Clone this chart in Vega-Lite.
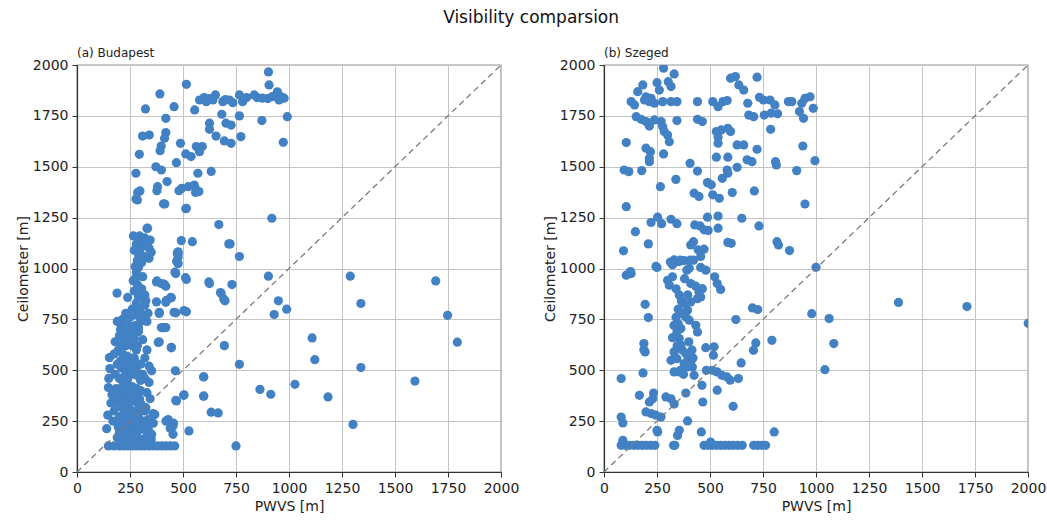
{
"$schema": "https://vega.github.io/schema/vega-lite/v6.json",
"padding": {"left": 15, "top": 9, "right": 0, "bottom": 0},
"background": "white",
"title": {"text": "Visibility comparsion", "fontSize": 17, "font": "DejaVu Sans", "fontWeight": "normal", "color": "#111", "offset": 19, "anchor": "middle", "frame": "bounds"},
"config": {
  "font": "DejaVu Sans",
  "view": {"stroke": "#333", "strokeWidth": 1.2},
  "axis": {"grid": true, "gridColor": "#c4c4c4", "gridWidth": 1, "domainColor": "#333", "domainWidth": 1.2, "tickColor": "#333", "tickSize": 5, "labelFontSize": 14, "titleFontSize": 14, "labelColor": "#222", "titleColor": "#222", "titleFontWeight": "normal", "labelPadding": 4, "labelFont": "DejaVu Sans", "titleFont": "DejaVu Sans", "labelFlush": false, "labelOverlap": false, "format": "d"},
  "axisY": {"titlePadding": 2},
  "axisX": {"titlePadding": 4}
},
"datasets": {
  "diag": [{"x": 0, "y": 0, "x2": 2000, "y2": 2000}],
  "bud": [
{"x":903,"y":1966},{"x":906,"y":1902},{"x":516,"y":1905},{"x":391,"y":1858},{"x":323,"y":1784},{"x":458,"y":1795},{"x":419,"y":1738},{"x":555,"y":1779},
{"x":578,"y":1828},{"x":610,"y":1820},{"x":641,"y":1828},{"x":653,"y":1853},{"x":688,"y":1820},{"x":719,"y":1828},{"x":766,"y":1853},{"x":781,"y":1820},{"x":836,"y":1853},{"x":875,"y":1837},{"x":922,"y":1845},{"x":945,"y":1868},{"x":961,"y":1845},{"x":977,"y":1837},{"x":953,"y":1828},{"x":600,"y":1840},{"x":625,"y":1835},{"x":700,"y":1830},{"x":735,"y":1815},{"x":800,"y":1840},{"x":850,"y":1840},{"x":900,"y":1835},
{"x":683,"y":1758},{"x":766,"y":1750},{"x":872,"y":1727},{"x":992,"y":1746},{"x":625,"y":1714},{"x":625,"y":1684},{"x":703,"y":1714},{"x":727,"y":1705},{"x":656,"y":1651},{"x":695,"y":1627},{"x":727,"y":1615},{"x":773,"y":1648},{"x":973,"y":1620},{"x":309,"y":1651},{"x":341,"y":1656},{"x":294,"y":1561},{"x":419,"y":1668},{"x":413,"y":1640},{"x":397,"y":1602},{"x":392,"y":1579},{"x":488,"y":1615},{"x":513,"y":1563},{"x":538,"y":1550},{"x":578,"y":1574},{"x":591,"y":1599},{"x":563,"y":1599},{"x":278,"y":1468},{"x":372,"y":1500},{"x":398,"y":1484},{"x":469,"y":1520},{"x":570,"y":1468},{"x":633,"y":1477},{"x":380,"y":1402},{"x":425,"y":1427},{"x":494,"y":1394},{"x":525,"y":1402},{"x":553,"y":1410},{"x":564,"y":1386},{"x":575,"y":1378},{"x":297,"y":1381},{"x":285,"y":1337},{"x":414,"y":1317},{"x":516,"y":1296},{"x":919,"y":1247},
{"x":278,"y":1342},{"x":286,"y":1374},{"x":377,"y":1382},{"x":408,"y":1318},{"x":513,"y":1294},{"x":481,"y":1382},{"x":559,"y":1374},{"x":669,"y":1216},{"x":716,"y":1121},{"x":330,"y":1197},{"x":492,"y":1137},{"x":544,"y":1132},{"x":473,"y":1076},{"x":470,"y":1035},{"x":462,"y":982},{"x":512,"y":955},{"x":377,"y":939},{"x":411,"y":923},{"x":622,"y":934},{"x":677,"y":882},{"x":692,"y":850},{"x":189,"y":879},{"x":239,"y":858},{"x":317,"y":850},{"x":442,"y":858},{"x":419,"y":834},{"x":388,"y":785},{"x":458,"y":785},{"x":505,"y":793},{"x":766,"y":1059},{"x":903,"y":962},{"x":625,"y":926},{"x":731,"y":921},{"x":680,"y":877},{"x":698,"y":841},{"x":950,"y":841},{"x":930,"y":774},{"x":989,"y":800},{"x":516,"y":946},{"x":516,"y":787},{"x":466,"y":782},{"x":388,"y":779},{"x":398,"y":710},{"x":419,"y":710},{"x":388,"y":639},{"x":445,"y":610},{"x":722,"y":1121},{"x":477,"y":1075},{"x":466,"y":975},{"x":477,"y":1024},{"x":477,"y":1057},{"x":477,"y":1082},{"x":375,"y":934},{"x":398,"y":926},{"x":419,"y":913},{"x":375,"y":836},{"x":422,"y":844},{"x":445,"y":856},{"x":325,"y":841},
{"x":275,"y":1010},{"x":285,"y":1040},{"x":290,"y":1070},{"x":300,"y":1100},{"x":310,"y":1130},{"x":320,"y":1150},{"x":330,"y":1120},{"x":340,"y":1100},{"x":300,"y":1140},{"x":280,"y":1120},{"x":295,"y":1160},{"x":345,"y":1140},{"x":350,"y":1080},{"x":270,"y":1090},{"x":315,"y":1060},{"x":305,"y":1030},{"x":290,"y":1005},{"x":340,"y":1050},{"x":266,"y":1160},{"x":333,"y":1198},
{"x":280,"y":980},{"x":275,"y":950},{"x":285,"y":920},{"x":270,"y":890},{"x":290,"y":860},{"x":280,"y":830},{"x":295,"y":800},{"x":285,"y":770},{"x":300,"y":740},{"x":290,"y":710},{"x":310,"y":960},{"x":305,"y":900},{"x":320,"y":870},{"x":265,"y":940},{"x":260,"y":800},{"x":300,"y":880},{"x":310,"y":770},{"x":275,"y":720},{"x":320,"y":820},{"x":335,"y":780},{"x":330,"y":740},
{"x":1289,"y":962},{"x":1339,"y":828},{"x":1339,"y":513},{"x":1302,"y":234},{"x":1692,"y":939},{"x":1748,"y":770},{"x":1794,"y":638},{"x":1594,"y":447},{"x":1028,"y":431},{"x":1109,"y":659},{"x":1122,"y":552},{"x":1184,"y":369},{"x":766,"y":529},{"x":750,"y":128},{"x":863,"y":406},{"x":914,"y":382},{"x":695,"y":621},{"x":598,"y":468},{"x":598,"y":374},{"x":633,"y":294},{"x":528,"y":202},{"x":505,"y":379},{"x":466,"y":352},{"x":464,"y":497},{"x":445,"y":613},{"x":383,"y":637},{"x":406,"y":710},{"x":414,"y":710},{"x":352,"y":497},{"x":367,"y":282},{"x":430,"y":258},{"x":453,"y":226},{"x":453,"y":185},{"x":336,"y":258},{"x":336,"y":210},{"x":352,"y":185},{"x":666,"y":290},{"x":503,"y":377},{"x":469,"y":349},{"x":273,"y":246},{"x":359,"y":287},{"x":325,"y":316},{"x":597,"y":467},{"x":597,"y":372},
{"x":153,"y":562},{"x":155,"y":508},{"x":148,"y":415},{"x":160,"y":339},{"x":140,"y":213},{"x":150,"y":460},{"x":165,"y":380},{"x":175,"y":300},{"x":145,"y":280},{"x":170,"y":250},
{"x":190,"y":740},{"x":210,"y":720},{"x":230,"y":700},{"x":250,"y":690},{"x":200,"y":670},{"x":220,"y":650},{"x":240,"y":640},{"x":260,"y":620},{"x":280,"y":600},{"x":195,"y":600},{"x":215,"y":580},{"x":235,"y":570},{"x":255,"y":560},{"x":275,"y":540},{"x":300,"y":530},{"x":190,"y":530},{"x":210,"y":510},{"x":230,"y":500},{"x":250,"y":490},{"x":270,"y":480},{"x":290,"y":470},{"x":320,"y":460},{"x":200,"y":460},{"x":220,"y":440},{"x":240,"y":430},{"x":260,"y":420},{"x":280,"y":410},{"x":300,"y":400},{"x":330,"y":390},{"x":185,"y":410},{"x":205,"y":390},{"x":225,"y":370},{"x":245,"y":360},{"x":265,"y":350},{"x":285,"y":340},{"x":305,"y":330},{"x":190,"y":340},{"x":210,"y":320},{"x":230,"y":300},{"x":250,"y":290},{"x":270,"y":280},{"x":290,"y":270},{"x":200,"y":270},{"x":220,"y":250},{"x":240,"y":240},{"x":260,"y":230},{"x":280,"y":220},{"x":300,"y":210},{"x":195,"y":220},{"x":215,"y":200},{"x":235,"y":190},{"x":255,"y":180},{"x":275,"y":170},{"x":300,"y":160},{"x":320,"y":150},{"x":190,"y":170},{"x":210,"y":160},{"x":230,"y":150},{"x":250,"y":145},{"x":270,"y":560},{"x":330,"y":600},{"x":310,"y":650},{"x":290,"y":690},{"x":270,"y":660},{"x":320,"y":560},{"x":340,"y":520},{"x":310,"y":480},{"x":250,"y":760},{"x":230,"y":780},{"x":215,"y":750},{"x":245,"y":720},{"x":340,"y":440},{"x":320,"y":300},{"x":310,"y":250},{"x":330,"y":220},{"x":230,"y":620},{"x":180,"y":640},{"x":175,"y":580},{"x":260,"y":520},{"x":280,"y":500},{"x":300,"y":450},{"x":240,"y":460},{"x":220,"y":540},{"x":180,"y":480},{"x":180,"y":360},{"x":345,"y":360},
{"x":205,"y":700},{"x":225,"y":680},{"x":245,"y":665},{"x":265,"y":640},{"x":285,"y":620},{"x":210,"y":620},{"x":205,"y":545},{"x":245,"y":530},{"x":265,"y":500},{"x":225,"y":470},{"x":215,"y":420},{"x":235,"y":400},{"x":255,"y":380},{"x":275,"y":370},{"x":295,"y":360},{"x":205,"y":350},{"x":225,"y":330},{"x":245,"y":315},{"x":265,"y":300},{"x":285,"y":300},{"x":215,"y":280},{"x":235,"y":265},{"x":255,"y":255},{"x":275,"y":245},{"x":295,"y":235},{"x":205,"y":240},{"x":225,"y":225},{"x":245,"y":210},{"x":265,"y":200},{"x":285,"y":200},{"x":205,"y":200},
{"x":148,"y":128},{"x":175,"y":128},{"x":200,"y":128},{"x":220,"y":128},{"x":240,"y":128},{"x":260,"y":128},{"x":280,"y":128},{"x":300,"y":128},{"x":320,"y":128},{"x":340,"y":128},{"x":360,"y":128},{"x":380,"y":128},{"x":400,"y":128},{"x":420,"y":128},{"x":440,"y":128},{"x":461,"y":128},
{"x":200,"y":190},{"x":230,"y":220},{"x":250,"y":200},{"x":280,"y":190},{"x":330,"y":180},{"x":350,"y":160},{"x":440,"y":215},{"x":455,"y":240},{"x":420,"y":250},{"x":360,"y":240}
  ],
  "sze": [
{"x":281,"y":1984},{"x":331,"y":1956},{"x":303,"y":1918},{"x":316,"y":1894},{"x":250,"y":1913},{"x":261,"y":1877},{"x":183,"y":1902},{"x":159,"y":1869},{"x":128,"y":1820},{"x":144,"y":1804},{"x":191,"y":1828},{"x":214,"y":1820},{"x":238,"y":1812},{"x":277,"y":1820},{"x":316,"y":1820},{"x":344,"y":1820},{"x":198,"y":1844},{"x":222,"y":1836},{"x":152,"y":1746},{"x":175,"y":1733},{"x":198,"y":1722},{"x":214,"y":1700},{"x":238,"y":1730},{"x":269,"y":1722},{"x":277,"y":1697},{"x":284,"y":1673},{"x":300,"y":1656},{"x":308,"y":1623},{"x":344,"y":1727},{"x":105,"y":1619},{"x":198,"y":1591},{"x":219,"y":1574},{"x":214,"y":1542},{"x":214,"y":1525},{"x":281,"y":1563},{"x":95,"y":1484},{"x":117,"y":1476},{"x":178,"y":1481},{"x":266,"y":1402},{"x":339,"y":1438},{"x":105,"y":1304},{"x":92,"y":1087},{"x":148,"y":1181},{"x":209,"y":1121},{"x":222,"y":1226},{"x":253,"y":1252},{"x":272,"y":1220},{"x":316,"y":1242},{"x":344,"y":1220},{"x":245,"y":1010},{"x":125,"y":985},
{"x":441,"y":1820},{"x":441,"y":1733},{"x":464,"y":1722},{"x":406,"y":1517},{"x":441,"y":1479},{"x":425,"y":1370},{"x":448,"y":1354},{"x":488,"y":1422},{"x":506,"y":1411},{"x":513,"y":1362},{"x":544,"y":1345},{"x":488,"y":1252},{"x":428,"y":1214},{"x":453,"y":1209},{"x":472,"y":1190},{"x":491,"y":1187},{"x":422,"y":1132},{"x":409,"y":1116},{"x":444,"y":1092},{"x":472,"y":1095},{"x":456,"y":1059},{"x":331,"y":1042},{"x":355,"y":1034},{"x":378,"y":1039},{"x":402,"y":1001},{"x":323,"y":1018},
{"x":513,"y":1820},{"x":538,"y":1795},{"x":561,"y":1820},{"x":581,"y":1825},{"x":597,"y":1935},{"x":620,"y":1943},{"x":636,"y":1902},{"x":659,"y":1877},{"x":722,"y":1940},{"x":530,"y":1673},{"x":538,"y":1645},{"x":553,"y":1681},{"x":584,"y":1689},{"x":597,"y":1673},{"x":538,"y":1616},{"x":628,"y":1607},{"x":659,"y":1607},{"x":722,"y":1586},{"x":530,"y":1547},{"x":584,"y":1547},{"x":675,"y":1534},{"x":698,"y":1525},{"x":628,"y":1497},{"x":581,"y":1484},{"x":558,"y":1443},{"x":584,"y":1468},{"x":605,"y":1373},{"x":709,"y":1381},{"x":650,"y":1247},{"x":538,"y":1258},{"x":538,"y":1198},{"x":584,"y":1128},{"x":600,"y":1124},{"x":731,"y":1209},{"x":678,"y":1812},{"x":683,"y":1754},{"x":706,"y":1746},{"x":733,"y":1841},{"x":752,"y":1828},{"x":783,"y":1828},{"x":806,"y":1804},{"x":756,"y":1754},{"x":788,"y":1763},{"x":819,"y":1760},{"x":786,"y":1684},{"x":809,"y":1525},{"x":813,"y":1509},{"x":870,"y":1820},{"x":886,"y":1820},{"x":933,"y":1812},{"x":948,"y":1836},{"x":972,"y":1844},{"x":987,"y":1787},{"x":922,"y":1771},{"x":941,"y":1738},{"x":938,"y":1602},{"x":995,"y":1530},{"x":909,"y":1481},{"x":948,"y":1317},{"x":816,"y":1132},{"x":823,"y":1116},{"x":875,"y":1088},{"x":1000,"y":1006},
{"x":105,"y":967},{"x":128,"y":975},{"x":250,"y":1005},{"x":300,"y":942},{"x":323,"y":959},{"x":308,"y":918},{"x":313,"y":1032},{"x":336,"y":1032},{"x":359,"y":1041},{"x":406,"y":1041},{"x":391,"y":992},{"x":422,"y":1041},{"x":456,"y":1005},{"x":480,"y":992},{"x":522,"y":959},{"x":534,"y":926},{"x":550,"y":897},{"x":409,"y":926},{"x":433,"y":913},{"x":448,"y":885},{"x":464,"y":901},{"x":456,"y":860},{"x":441,"y":852},{"x":378,"y":828},{"x":394,"y":795},{"x":409,"y":836},{"x":370,"y":779},{"x":386,"y":762},{"x":402,"y":746},{"x":433,"y":721},{"x":441,"y":688},{"x":350,"y":729},{"x":363,"y":705},{"x":344,"y":688},{"x":323,"y":660},{"x":355,"y":656},{"x":363,"y":623},{"x":370,"y":598},{"x":386,"y":582},{"x":397,"y":557},{"x":409,"y":541},{"x":378,"y":533},{"x":316,"y":549},{"x":344,"y":557},{"x":355,"y":492},{"x":331,"y":492},{"x":394,"y":516},{"x":417,"y":516},{"x":425,"y":475},{"x":480,"y":611},{"x":519,"y":615},{"x":516,"y":574},{"x":483,"y":500},{"x":511,"y":500},{"x":533,"y":492},{"x":556,"y":475},{"x":580,"y":467},{"x":595,"y":451},{"x":634,"y":459},{"x":647,"y":536},{"x":622,"y":749},{"x":705,"y":598},{"x":716,"y":634},{"x":700,"y":806},{"x":725,"y":798},{"x":792,"y":647},{"x":980,"y":778},{"x":1062,"y":754},{"x":1084,"y":631},{"x":1042,"y":503},{"x":194,"y":824},{"x":209,"y":759},{"x":188,"y":631},{"x":188,"y":601},{"x":194,"y":590},{"x":184,"y":487},{"x":81,"y":459},{"x":167,"y":377},{"x":234,"y":388},{"x":230,"y":360},{"x":214,"y":344},{"x":198,"y":295},{"x":222,"y":287},{"x":245,"y":279},{"x":269,"y":270},{"x":292,"y":369},{"x":316,"y":360},{"x":331,"y":334},{"x":386,"y":388},{"x":394,"y":251},{"x":462,"y":426},{"x":466,"y":344},{"x":534,"y":402},{"x":609,"y":323},{"x":459,"y":197},{"x":803,"y":197},{"x":81,"y":270},{"x":89,"y":241},{"x":250,"y":205},{"x":253,"y":197},{"x":355,"y":205},{"x":347,"y":180},{"x":334,"y":131},{"x":89,"y":156},
{"x":81,"y":131},{"x":100,"y":131},{"x":120,"y":131},{"x":140,"y":131},{"x":160,"y":131},{"x":180,"y":131},{"x":200,"y":131},{"x":220,"y":131},{"x":240,"y":131},{"x":472,"y":131},{"x":490,"y":131},{"x":510,"y":131},{"x":530,"y":131},{"x":550,"y":131},{"x":570,"y":131},{"x":590,"y":131},{"x":610,"y":131},{"x":630,"y":131},{"x":652,"y":131},{"x":706,"y":131},{"x":725,"y":131},{"x":745,"y":131},{"x":762,"y":131},{"x":328,"y":131},{"x":503,"y":147},{"x":1389,"y":833},{"x":1712,"y":813},{"x":2001,"y":731},
{"x":340,"y":900},{"x":355,"y":870},{"x":365,"y":840},{"x":350,"y":800},{"x":340,"y":760},{"x":330,"y":720},{"x":345,"y":620},{"x":330,"y":590},{"x":360,"y":500},{"x":375,"y":480},{"x":400,"y":640},{"x":415,"y":600},{"x":420,"y":560},{"x":395,"y":870},{"x":380,"y":950}
  ]
},
"spacing": 22,
"hconcat": [
  {
    "title": {"text": "(a) Budapest", "fontSize": 12, "fontWeight": "normal", "anchor": "start", "frame": "group", "offset": -2, "font": "DejaVu Sans", "color": "#222"},
    "width": 424, "height": 407,
    "layer": [
      {"data": {"name": "bud"}, "mark": {"type": "circle", "size": 85, "color": "#4281c4", "opacity": 1, "clip": true},
       "encoding": {
         "x": {"field": "x", "type": "quantitative", "scale": {"domain": [0, 2000], "nice": false}, "axis": {"values": [0,250,500,750,1000,1250,1500,1750,2000], "title": "PWVS [m]"}},
         "y": {"field": "y", "type": "quantitative", "scale": {"domain": [0, 2000], "nice": false}, "axis": {"values": [0,250,500,750,1000,1250,1500,1750,2000], "title": "Ceilometer [m]"}}}},
      {"data": {"name": "diag"}, "mark": {"type": "rule", "color": "#7a7a7a", "strokeDash": [6, 4], "strokeWidth": 1.3},
       "encoding": {"x": {"field": "x", "type": "quantitative"}, "y": {"field": "y", "type": "quantitative"}, "x2": {"field": "x2"}, "y2": {"field": "y2"}}}
    ]
  },
  {
    "title": {"text": "(b) Szeged", "fontSize": 12, "fontWeight": "normal", "anchor": "start", "frame": "group", "offset": -2, "font": "DejaVu Sans", "color": "#222"},
    "width": 424, "height": 407,
    "layer": [
      {"data": {"name": "sze"}, "mark": {"type": "circle", "size": 85, "color": "#4281c4", "opacity": 1, "clip": true},
       "encoding": {
         "x": {"field": "x", "type": "quantitative", "scale": {"domain": [0, 2000], "nice": false}, "axis": {"values": [0,250,500,750,1000,1250,1500,1750,2000], "title": "PWVS [m]"}},
         "y": {"field": "y", "type": "quantitative", "scale": {"domain": [0, 2000], "nice": false}, "axis": {"values": [0,250,500,750,1000,1250,1500,1750,2000], "title": "Ceilometer [m]"}}}},
      {"data": {"name": "diag"}, "mark": {"type": "rule", "color": "#7a7a7a", "strokeDash": [6, 4], "strokeWidth": 1.3},
       "encoding": {"x": {"field": "x", "type": "quantitative"}, "y": {"field": "y", "type": "quantitative"}, "x2": {"field": "x2"}, "y2": {"field": "y2"}}}
    ]
  }
]
}
